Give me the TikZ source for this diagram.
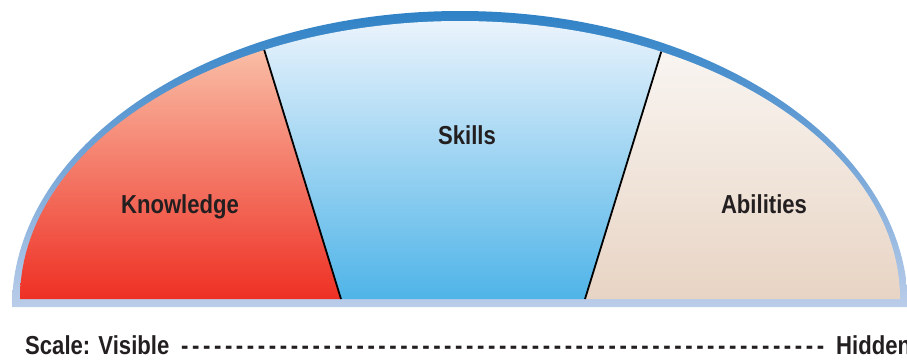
\documentclass[tikz,border=0pt]{standalone}
\usepackage{fontspec}
\newfontfamily\lbl{Liberation Sans}[FakeStretch=0.85]
\definecolor{bordtop}{HTML}{2F82C6}
\definecolor{bordmid}{HTML}{74A5D8}
\definecolor{bordbot}{HTML}{BACDE9}
\definecolor{knowtop}{HTML}{FAC6AE}
\definecolor{knowbot}{HTML}{EE3024}
\definecolor{skilltop}{HTML}{EAF3FC}
\definecolor{skillbot}{HTML}{4FB4E8}
\definecolor{abiltop}{HTML}{FAF7F4}
\definecolor{abilbot}{HTML}{E8D4C4}
\definecolor{txt}{HTML}{231F20}
\tikzset{
  lab/.style={font=\lbl\bfseries\fontsize{26}{29}\selectfont, text=txt, inner sep=0pt, anchor=base},
  divider/.style={line width=1.8pt, black},
}
\begin{document}
\begin{tikzpicture}[x=1pt,y=1pt]
\useasboundingbox (0,0) rectangle (907,360);
% outer border half-ellipse
\shade[top color=bordtop, bottom color=bordbot, middle color=bordmid]
  (12,53) arc[start angle=180, end angle=0, x radius=448, y radius=296] -- cycle;
% inner sections
\begin{scope}
  \clip (20,61) arc[start angle=180, end angle=0, x radius=440, y radius=278] -- cycle;
  \shade[top color=knowtop, bottom color=knowbot]
    (0,61) -- (0,325) -- (260,325) -- (341,61) -- cycle;
  \shade[top color=skilltop, bottom color=skillbot]
    (255.3,339) -- (670.7,339) -- (585,61) -- (341,61) -- cycle;
  \shade[top color=abiltop, bottom color=abilbot]
    (666,325) -- (920,325) -- (920,61) -- (585,61) -- cycle;
  \coordinate (l1) at (255.3,339);
  \coordinate (l2) at (341,61);
  \coordinate (r1) at (670.7,339);
  \coordinate (r2) at (585,61);
  \draw[divider] (l1) -- (l2);
  \draw[divider] (r1) -- (r2);
\end{scope}
% labels
\node[lab] (know) at (180,147) {Knowledge};
\node[lab] (skills) at (467,216) {Skills};
\node[lab] (abil) at (764,147) {Abilities};
\node[lab, anchor=base west] (scale) at (25,6) {Scale: Visible};
\node[lab, anchor=base west] (dashes) at (181,6) {\foreach \i in {1,...,59}{-\kern3.6pt}};
\node[lab, anchor=base west] (hidden) at (836,6) {Hidden};
\end{tikzpicture}
\end{document}
